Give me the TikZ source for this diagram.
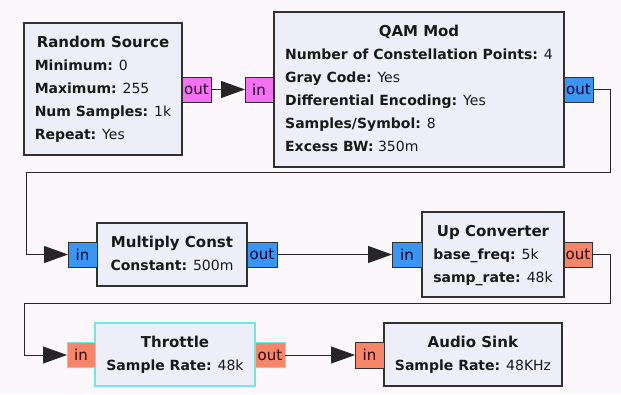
\documentclass[tikz,border=0pt]{standalone}
\usepackage{fontspec}
\setmainfont{DejaVu Sans}
\usetikzlibrary{arrows.meta}
\definecolor{bg}{HTML}{FBF7FB}
\definecolor{blockfill}{HTML}{EEEEF8}
\definecolor{blockline}{HTML}{303030}
\definecolor{byteport}{HTML}{F272F2}
\definecolor{cplxport}{HTML}{3A96F0}
\definecolor{fltport}{HTML}{F5866A}
\definecolor{selcyan}{HTML}{70E6E6}
\tikzset{
  blk/.style={draw=blockline, fill=blockfill, line width=1.2pt, rectangle, inner sep=0pt, outer sep=0pt},
  blktext/.style={inner sep=0pt, text=black!90, font=\fontsize{14}{23}\selectfont},
  port/.style={draw=blockline, line width=0.9pt, rectangle, inner sep=0pt, outer sep=0pt,
    minimum height=25pt, font=\fontsize{15}{16}\selectfont},
  bport/.style={port, fill=byteport, text=black!70!violet},
  cport/.style={port, fill=cplxport, text=black!80!blue},
  fport/.style={port, fill=fltport, text=black!80!red},
  wire/.style={draw=black!85, line width=1pt, -{Triangle[length=24pt,width=17pt]}},
}
\newcommand{\kv}[2]{\textbf{#1:} #2}
\newcommand{\ttl}[1]{\multicolumn{1}{@{}c@{}}{\fontsize{15}{23}\selectfont\textbf{#1}}}
\begin{document}
\begin{tikzpicture}[x=1pt,y=-1pt]
\fill[bg] (0,0) rectangle (621,394);
\useasboundingbox (0,0) rectangle (621,394);

% blocks
\node[blk, minimum width=158pt, minimum height=132pt] (rs) at (103,89) {};
\node[blktext] (rst) at (rs.center) {\begin{tabular}{@{}l@{}}\ttl{Random Source}\\\kv{Minimum}{0}\\\kv{Maximum}{255}\\\kv{Num Samples}{1k}\\\kv{Repeat}{Yes}\end{tabular}};

\node[blk, minimum width=290pt, minimum height=155pt] (qam) at (419,89.5) {};
\node[blktext] (qamt) at (qam.center) {\begin{tabular}{@{}l@{}}\ttl{QAM Mod}\\\kv{Number of Constellation Points}{4}\\\kv{Gray Code}{Yes}\\\kv{Differential Encoding}{Yes}\\\kv{Samples/Symbol}{8}\\\kv{Excess BW}{350m}\end{tabular}};

\node[blk, minimum width=150pt, minimum height=63pt] (mc) at (172,254.5) {};
\node[blktext] (mct) at (mc.center) {\begin{tabular}{@{}l@{}}\ttl{Multiply Const}\\\kv{Constant}{500m}\end{tabular}};

\node[blk, minimum width=142pt, minimum height=85pt] (uc) at (493,254.5) {};
\node[blktext] (uct) at (uc.center) {\begin{tabular}{@{}l@{}}\ttl{Up Converter}\\\kv{base\_freq}{5k}\\\kv{samp\_rate}{48k}\end{tabular}};

\node[blk, draw=selcyan, minimum width=160pt, minimum height=63pt] (thr) at (175,354.5) {};
\node[blktext] (thrt) at (thr.center) {\begin{tabular}{@{}l@{}}\ttl{Throttle}\\\kv{Sample Rate}{48k}\end{tabular}};

\node[blk, minimum width=178pt, minimum height=63pt] (as) at (473,354.5) {};
\node[blktext] (ast) at (as.center) {\begin{tabular}{@{}l@{}}\ttl{Audio Sink}\\\kv{Sample Rate}{48KHz}\end{tabular}};

% ports
\node[bport, minimum width=29pt] (rsout) at (196.5,89.5) {out};
\node[bport, minimum width=28pt] (qamin) at (259,89.5) {in};
\node[cport, minimum width=29pt] (qamout) at (578.5,89.5) {out};
\node[cport, minimum width=29pt] (mcin) at (82.5,254.5) {in};
\node[cport, minimum width=30pt] (mcout) at (262,254.5) {out};
\node[cport, minimum width=30pt] (ucin) at (407,254.5) {in};
\node[fport, minimum width=28pt] (ucout) at (578,254.5) {out};
\node[fport, draw=selcyan, minimum width=28pt] (thrin) at (81,355) {in};
\node[fport, draw=selcyan, minimum width=30pt] (throut) at (270,355) {out};
\node[fport, minimum width=29pt, minimum height=26pt] (asin) at (369.5,355) {in};

% bend points
\coordinate (b1) at (610,89.5);
\coordinate (b2) at (610,172);
\coordinate (b3) at (26,172);
\coordinate (b4) at (26,254.5);
\coordinate (c1) at (610,254.5);
\coordinate (c2) at (610,303);
\coordinate (c3) at (24,303);
\coordinate (c4) at (24,355);

% wires
\draw[wire] (rsout.east) -- (qamin.west);
\draw[wire] (qamout.east) -- (b1) -- (b2) -- (b3) -- (b4) -- (mcin.west);
\draw[wire] (mcout.east) -- (ucin.west);
\draw[wire] (ucout.east) -- (c1) -- (c2) -- (c3) -- (c4) -- (thrin.west);
\draw[wire] (throut.east) -- (asin.west);
\end{tikzpicture}
\end{document}
